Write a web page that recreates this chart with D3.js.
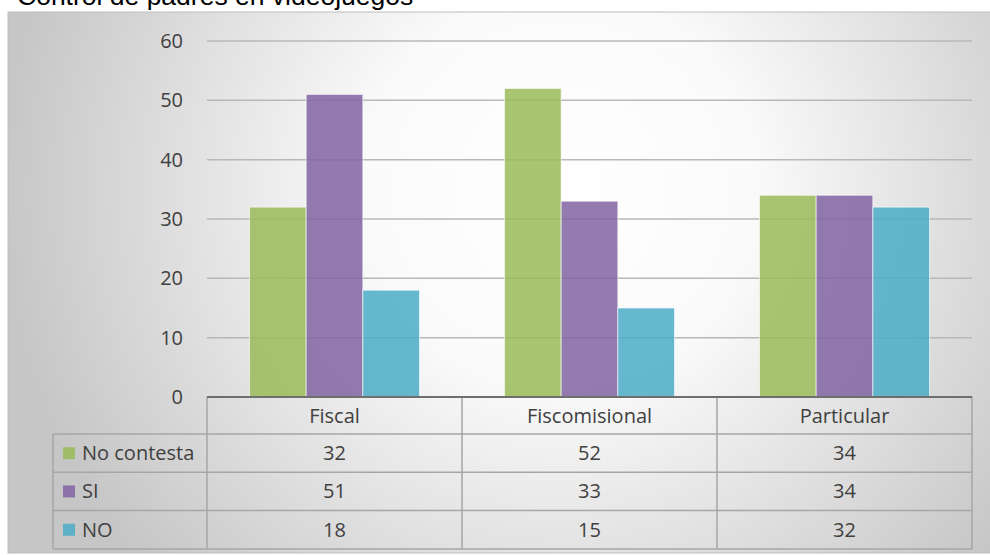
<!DOCTYPE html>
<html>
<head>
<meta charset="utf-8">
<script src="https://cdn.jsdelivr.net/npm/d3@7"></script>
<style>
  html, body { margin: 0; padding: 0; background: #ffffff; }
  svg { display: block; }
</style>
</head>
<body>
<svg id="chart" width="990" height="555"></svg>
<script>
// Data
const title = "Control de padres en videojuegos";
const categories = ["Fiscal", "Fiscomisional", "Particular"];
const seriesNames = ["No contesta", "SI", "NO"];
const noContesta = [32, 52, 34];
const si = [51, 33, 34];
const no = [18, 15, 32];
const seriesColors = ["#9bbb59", "#8064a2", "#4bacc6"];
const yTicks = [0, 10, 20, 30, 40, 50, 60];

const seriesValues = [noContesta, si, no];

const svg = d3.select("#chart");

// Chart area frame with soft radial shading
const defs = svg.append("defs");
const grad = defs.append("radialGradient")
  .attr("id", "bg")
  .attr("gradientUnits", "userSpaceOnUse")
  .attr("cx", 560).attr("cy", 190).attr("r", 560);
grad.append("stop").attr("offset", "0%").attr("stop-color", "#ffffff");
grad.append("stop").attr("offset", "35%").attr("stop-color", "#fafafa");
grad.append("stop").attr("offset", "100%").attr("stop-color", "#c6c6c6");

const frame = { x: 8, y: 12, w: 990, h: 541 };
svg.append("rect")
  .attr("x", frame.x).attr("y", frame.y)
  .attr("width", frame.w).attr("height", frame.h)
  .attr("fill", "url(#bg)")
  .attr("stroke", "#bdbdbd").attr("stroke-width", 1);

// Title (sits above the frame)
svg.append("text")
  .attr("x", 17).attr("y", 5)
  .attr("font-family", "Liberation Sans, Arial, sans-serif")
  .attr("font-size", 26.5)
  .attr("fill", "#000")
  .text(title);

// Scales
const plotLeft = 207, plotRight = 972, plotTop = 41, plotBottom = 397;
const x = d3.scaleBand().domain(categories).range([plotLeft, plotRight]);
const bw = x.bandwidth();
const barW = bw / 4.5;           // gap width 150% of a bar
const xs = d3.scaleBand().domain(seriesNames)
  .range([barW * 0.75, bw - barW * 0.75]);
const y = d3.scaleLinear().domain([0, 60]).range([plotBottom, plotTop]);

const font = "'Open Sans', 'Noto Sans', sans-serif";
const fs = 20;
const textColor = "#404040";

// Gridlines
svg.append("g").selectAll("line")
  .data(yTicks.filter(t => t > 0))
  .join("line")
  .attr("x1", plotLeft).attr("x2", plotRight)
  .attr("y1", d => y(d)).attr("y2", d => y(d))
  .attr("stroke", "#b8b8b8").attr("stroke-width", 1.5);

// Y axis labels
const yAxis = d3.axisLeft(y).tickValues(yTicks).tickSize(0).tickPadding(0);
const yg = svg.append("g")
  .attr("transform", `translate(${plotLeft - 24},0)`)
  .call(yAxis);
yg.select(".domain").remove();
yg.selectAll("text")
  .attr("font-family", font)
  .attr("font-size", fs)
  .attr("fill", textColor);

// Bars
const groups = svg.append("g").selectAll("g")
  .data(categories)
  .join("g")
  .attr("transform", d => `translate(${x(d)},0)`);

groups.selectAll("rect")
  .data((c, ci) => seriesNames.map((s, si) => ({ s, si, v: seriesValues[si][ci] })))
  .join("rect")
  .attr("x", d => xs(d.s))
  .attr("y", d => y(d.v))
  .attr("width", xs.bandwidth())
  .attr("height", d => y(0) - y(d.v))
  .attr("fill", d => seriesColors[d.si])
  .attr("fill-opacity", 0.85)
  .attr("stroke", "#ffffff")
  .attr("stroke-opacity", 0.6)
  .attr("stroke-width", 1);

// Data table below the axis
const tableLeft = 53;
const headerTop = plotBottom, headerBottom = 434;
const rowH = 38.3;
const rowTops = seriesNames.map((s, i) => headerBottom + i * rowH);
const tableBottom = headerBottom + seriesNames.length * rowH;
const tg = svg.append("g");
const lineColor = "#a6a6a6";

// horizontal rules
tg.selectAll("line.h")
  .data(rowTops.concat([tableBottom]))
  .join("line")
  .attr("class", "h")
  .attr("x1", tableLeft).attr("x2", plotRight)
  .attr("y1", d => d).attr("y2", d => d)
  .attr("stroke", lineColor).attr("stroke-width", 1.5);

// vertical rules in the value area
tg.selectAll("line.v")
  .data(categories.map(c => x(c)).concat([plotRight]))
  .join("line")
  .attr("class", "v")
  .attr("x1", d => d).attr("x2", d => d)
  .attr("y1", headerTop).attr("y2", tableBottom)
  .attr("stroke", lineColor).attr("stroke-width", 1.5);

// left edge of the series-name column
tg.append("line")
  .attr("x1", tableLeft).attr("x2", tableLeft)
  .attr("y1", headerBottom).attr("y2", tableBottom)
  .attr("stroke", lineColor).attr("stroke-width", 1.5);

// Category axis line
svg.append("line")
  .attr("x1", plotLeft).attr("x2", plotRight)
  .attr("y1", plotBottom).attr("y2", plotBottom)
  .attr("stroke", "#6e6e6e").attr("stroke-width", 2);

// Category headers
tg.selectAll("text.cat")
  .data(categories)
  .join("text")
  .attr("class", "cat")
  .attr("x", d => x(d) + bw / 2)
  .attr("y", (headerTop + headerBottom) / 2 + 7)
  .attr("text-anchor", "middle")
  .attr("font-family", font).attr("font-size", fs)
  .attr("fill", textColor)
  .text(d => d);

// Legend keys and series names
seriesNames.forEach((s, si) => {
  const top = rowTops[si];
  tg.append("rect")
    .attr("x", 63).attr("y", top + rowH / 2 - 6)
    .attr("width", 12).attr("height", 12)
    .attr("fill", seriesColors[si]).attr("fill-opacity", 0.85);
  tg.append("text")
    .attr("x", 82).attr("y", top + rowH / 2 + 7)
    .attr("font-family", font).attr("font-size", fs)
    .attr("fill", textColor)
    .text(s);
  tg.selectAll(null)
    .data(categories)
    .join("text")
    .attr("x", d => x(d) + bw / 2)
    .attr("y", top + rowH / 2 + 7)
    .attr("text-anchor", "middle")
    .attr("font-family", font).attr("font-size", fs)
    .attr("fill", textColor)
    .text((d, ci) => seriesValues[si][ci]);
});
</script>
</body>
</html>
